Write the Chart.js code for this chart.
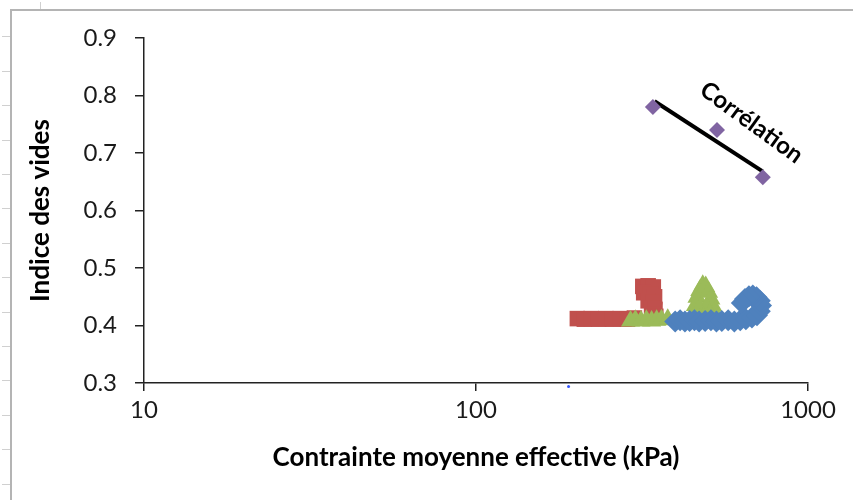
<!DOCTYPE html>
<html lang="fr">
<head>
<meta charset="UTF-8">
<title>Indice des vides</title>
<style>
    body {
        margin: 0;
        padding: 0;
        background: #fff;
        font-family: Lato, sans-serif;
    }
    .wrap {
        position: relative;
        width: 853px;
        height: 500px;
        overflow: hidden;
    }
    /* cadre gris du graphique Excel */
    .frame {
        position: absolute;
        left: 10px;
        top: 9px;
        width: 900px;
        height: 600px;
        border: 2px solid #b4b4b4;
    }
    .rows {
        position: absolute;
        left: 2px;
        top: 3px;
        width: 8px;
        height: 497px;
        background: repeating-linear-gradient(to bottom, transparent 0 33.4px, #d0d0d0 33.4px 34.4px);
    }
    .colmark {
        position: absolute;
        left: 40px;
        top: 2px;
        width: 1px;
        height: 7px;
        background: #d0d0d0;
    }
    canvas {
        position: absolute;
        left: 0;
        top: 0;
    }
</style>
</head>
<body>
<div class="wrap">
    <div class="rows"></div>
    <div class="colmark"></div>
    <div class="frame"></div>
    <canvas id="chart" width="853" height="500"></canvas>
</div>

<script src="https://cdn.jsdelivr.net/npm/chart.js"></script>
<script>
    // graduations
    const xTicks = [10, 100, 1000];
    const yTicks = [0.3, 0.4, 0.5, 0.6, 0.7, 0.8, 0.9];

    // séries (contrainte kPa, indice des vides)
    const redPts = [
        [202, 0.412], [212, 0.411], [222, 0.412], [234, 0.411], [246, 0.412],
        [258, 0.411], [272, 0.412], [286, 0.411], [300, 0.413],
        [318, 0.468], [330, 0.469], [342, 0.467], [320, 0.457], [335, 0.455],
        [345, 0.450], [330, 0.443], [342, 0.440], [338, 0.430], [346, 0.428],
        [342, 0.420], [348, 0.416]
    ];
    const greenPts = [
        [292, 0.408], [302, 0.409], [314, 0.408], [326, 0.409], [338, 0.408],
        [350, 0.409], [362, 0.410], [378, 0.411],
        [455, 0.420], [458, 0.435], [463, 0.449], [472, 0.461], [482, 0.470],
        [492, 0.468], [502, 0.458], [510, 0.446], [517, 0.434], [522, 0.422],
        [472, 0.430], [495, 0.430], [505, 0.420], [485, 0.415]
    ];
    const bluePts = [
        [398, 0.407], [412, 0.409], [426, 0.407], [440, 0.408], [455, 0.409],
        [470, 0.407], [490, 0.408], [510, 0.409], [530, 0.407], [550, 0.408],
        [575, 0.409], [600, 0.407], [625, 0.409], [650, 0.411], [678, 0.414],
        [702, 0.418], [716, 0.425], [722, 0.435], [716, 0.443], [700, 0.449],
        [682, 0.452], [664, 0.451], [646, 0.446], [632, 0.439]
    ];
    const blueDot = [[190, 0.294]];
    const purplePts = [[341, 0.780], [532, 0.740], [731, 0.658]];
    const corrLine = [[345, 0.790], [730, 0.668]];
    const corrLabel = { x: 676, y: 0.753, text: 'Corrélation' };

    function toXY(arr) {
        return arr.map(function (p) { return { x: p[0], y: p[1] }; });
    }

    // texte "Corrélation" incliné
    const corrText = {
        id: 'corrText',
        afterDatasetsDraw(chart) {
            const c = chart.ctx;
            const px = chart.scales.x.getPixelForValue(corrLabel.x);
            const py = chart.scales.y.getPixelForValue(corrLabel.y);
            c.save();
            c.translate(px, py);
            c.rotate(36 * Math.PI / 180);
            c.font = 'bold 24px Lato';
            c.fillStyle = '#000';
            c.textAlign = 'center';
            c.textBaseline = 'middle';
            c.fillText(corrLabel.text, 0, 0);
            c.restore();
        }
    };

    // order : la série rouge est dessinée en premier (dessous), comme dans Excel
    const ctx = document.getElementById('chart').getContext('2d');
    new Chart(ctx, {
        type: 'scatter',
        data: {
            datasets: [
                {
                    data: toXY(redPts),
                    order: 5,
                    pointStyle: 'rect',
                    pointRadius: 11,
                    backgroundColor: '#C0504D',
                    borderColor: '#C0504D',
                    borderWidth: 0
                },
                {
                    data: toXY(greenPts),
                    order: 4,
                    pointStyle: 'triangle',
                    pointRadius: 11,
                    backgroundColor: '#9BBB59',
                    borderColor: '#9BBB59',
                    borderWidth: 0
                },
                {
                    data: toXY(bluePts),
                    order: 3,
                    pointStyle: 'rectRot',
                    pointRadius: 11,
                    backgroundColor: '#4F81BD',
                    borderColor: '#4F81BD',
                    borderWidth: 0
                },
                {
                    data: toXY(blueDot),
                    order: 2,
                    pointStyle: 'circle',
                    pointRadius: 1.5,
                    backgroundColor: '#3355ff',
                    borderWidth: 0,
                    clip: false
                },
                {
                    type: 'line',
                    data: toXY(corrLine),
                    order: 1,
                    borderColor: '#000',
                    borderWidth: 4,
                    pointRadius: 0,
                    fill: false
                },
                {
                    data: toXY(purplePts),
                    order: 0,
                    pointStyle: 'rectRot',
                    pointRadius: 8,
                    backgroundColor: '#8064A2',
                    borderColor: '#8064A2',
                    borderWidth: 0
                }
            ]
        },
        options: {
            responsive: false,
            animation: false,
            layout: {
                padding: { left: 12, top: 38, right: 45, bottom: 27 }
            },
            plugins: {
                legend: { display: false },
                tooltip: { enabled: false }
            },
            scales: {
                x: {
                    type: 'logarithmic',
                    min: 10,
                    max: 1000,
                    afterBuildTicks(scale) {
                        scale.ticks = xTicks.map(function (v) { return { value: v }; });
                    },
                    afterFit(scale) { scale.height = 90; },
                    border: { display: true, color: '#222', width: 1.5 },
                    grid: { drawOnChartArea: false, drawTicks: true, tickLength: 8, color: '#222', lineWidth: 1.5 },
                    ticks: {
                        padding: 5,
                        color: '#1a1a1a',
                        font: { family: 'Lato', size: 24 },
                        callback: function (v) { return String(v); }
                    },
                    title: {
                        display: true,
                        text: 'Contrainte moyenne effective (kPa)',
                        color: '#000',
                        font: { family: 'Lato', size: 26, weight: 'bold' },
                        padding: 0
                    }
                },
                y: {
                    min: 0.3,
                    max: 0.9,
                    afterBuildTicks(scale) {
                        scale.ticks = yTicks.map(function (v) { return { value: v }; });
                    },
                    afterFit(scale) { scale.width = 132; },
                    border: { display: true, color: '#222', width: 1.5 },
                    grid: { drawOnChartArea: false, drawTicks: true, tickLength: 9, color: '#222', lineWidth: 1.5 },
                    ticks: {
                        padding: 18,
                        color: '#1a1a1a',
                        font: { family: 'Lato', size: 24 },
                        callback: function (v) { return v.toFixed(1); }
                    },
                    title: {
                        display: true,
                        text: 'Indice des vides',
                        color: '#000',
                        font: { family: 'Lato', size: 26, weight: 'bold' },
                        padding: { top: 13, bottom: 0 }
                    }
                }
            }
        },
        plugins: [corrText]
    });
</script>
</body>
</html>
